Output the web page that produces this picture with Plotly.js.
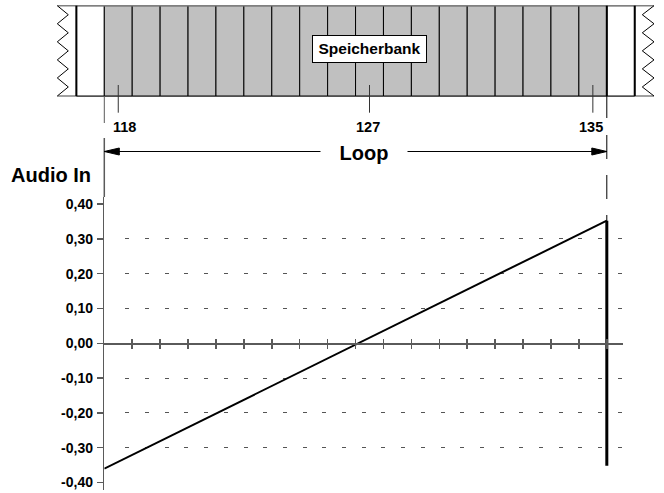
<!DOCTYPE html>
<html><head><meta charset="utf-8">
<script src="https://cdn.plot.ly/plotly-3.0.1.min.js"></script>
<style>html,body{margin:0;padding:0;background:#fff}#chart{width:664px;height:493px}</style>
</head><body><div id="chart"></div>
<script>
// ---------- data ----------
const bankCells   = [117,118,119,120,121,122,123,124,125,126,127,128,129,130,131,132,133,134,135,136];
const bankHeights = [1,1,1,1,1,1,1,1,1,1,1,1,1,1,1,1,1,1,1,1];
const loopStart = 118;
const loopEnd   = 135;
const markedCells  = [118, 127, 135];
const markedLabels = ['118', '127', '135'];
const rampX = [117.5, 135.5];
const rampY = [-0.36, 0.352];
const dropX = [135.5, 135.5];
const dropY = [0.352, -0.352];
const yTickVals = [-0.4, -0.3, -0.2, -0.1, 0, 0.1, 0.2, 0.3, 0.4];
const yTickText = ['-0,40', '-0,30', '-0,20', '-0,10', '0,00', '0,10', '0,20', '0,30', '0,40'];
const gridVals  = [-0.3, -0.2, -0.1, 0.1, 0.2, 0.3];
const xTickVals = [118.5,119.5,120.5,121.5,122.5,123.5,124.5,125.5,126.5,127.5,128.5,129.5,130.5,131.5,132.5,133.5,134.5,135.5];

// ---------- geometry helpers ----------
const W = 664, H = 493;
const fx = p => p / W;
const fy = p => (H - p) / H;
const S = 27.917;            // px per cell
const X0 = 104.3;            // px of cell edge 117.5
const AX = '#5a5a5a';
const FONT = 'Liberation Sans, Arial, Helvetica, sans-serif';

const yDom = [fy(489.5), fy(197)];
const zeroFrac = (yDom[0] + yDom[1]) / 2;
const xRange = [117.5, 117.5 + (623 - X0) / S];

const padU = 0.05, padV = 0.03;
const x2px0 = X0 + (116.5 - padU - 117.5) * S, x2px1 = X0 + (136.5 + padU - 117.5) * S;
const bankTop = 5.7, bankBot = 96, bankH = bankBot - bankTop;
const y3px0 = bankBot + padV * bankH, y3px1 = bankTop - padV * bankH;

const fills = bankCells.map(c => (c >= loopStart && c <= loopEnd) ? '#c0c0c0' : '#ffffff');

const traces = [
  {type: 'bar', x: bankCells, y: bankHeights, base: 0, width: 1, xaxis: 'x2', yaxis: 'y3',
   marker: {color: fills, line: {color: '#000', width: 1}}, hoverinfo: 'skip', showlegend: false},
  {type: 'scatter', mode: 'lines', x: rampX, y: rampY, xaxis: 'x', yaxis: 'y',
   line: {color: '#000', width: 2}, hoverinfo: 'skip', showlegend: false},
  {type: 'scatter', mode: 'lines', x: dropX, y: dropY, xaxis: 'x', yaxis: 'y',
   line: {color: '#000', width: 3}, hoverinfo: 'skip', showlegend: false},
  {type: 'scatter', mode: 'lines', x: [], y: [], xaxis: 'x3', yaxis: 'y', hoverinfo: 'skip', showlegend: false},
  {type: 'scatter', mode: 'lines', x: [], y: [], xaxis: 'x', yaxis: 'y2', hoverinfo: 'skip', showlegend: false}
];

// zigzag paths
function zig(xa, xb, n) {
  let d = '';
  for (let i = 0; i <= n; i++) {
    const px = (i % 2 === 0) ? xa : xb;
    const py = bankTop + bankH * i / n;
    d += (i === 0 ? 'M' : 'L') + fx(px).toFixed(5) + ',' + fy(py).toFixed(5);
  }
  return d;
}
let dashArr = ['0px', '21px'];
for (let i = 0; i < 30; i++) dashArr.push('4px', '15.7px');

const shapes = [
  {type: 'line', xref: 'paper', yref: 'paper', x0: fx(57.3), x1: fx(654), y0: fy(bankBot), y1: fy(bankBot), line: {color: '#808080', width: 1.5}, layer: 'below'},
  {type: 'line', xref: 'paper', yref: 'paper', x0: fx(57.3), x1: fx(654), y0: fy(bankTop), y1: fy(bankTop), line: {color: '#808080', width: 1.5}, layer: 'above'},
  {type: 'path', xref: 'paper', yref: 'paper', path: zig(57.3, 68.3, 10), line: {color: '#000', width: 1}},
  {type: 'path', xref: 'paper', yref: 'paper', path: zig(654, 642.3, 10), line: {color: '#000', width: 1}},
];
[116.5, 135.5, 136.5].forEach(v => shapes.push(
  {type: 'line', xref: 'x2', yref: 'paper', x0: v, x1: v, y0: fy(bankTop), y1: fy(bankBot), line: {color: '#000', width: 2}}));
markedCells.forEach(c => shapes.push(
  {type: 'line', xref: 'x2', yref: 'paper', x0: c, x1: c, y0: fy(85), y1: fy(112.7), line: {color: '#333', width: 1}}));
// loop boundaries
shapes.push({type: 'line', xref: 'x2', yref: 'paper', x0: loopStart - 0.5, x1: loopStart - 0.5, y0: fy(96), y1: fy(123), line: {color: AX, width: 1}});
shapes.push({type: 'line', xref: 'x2', yref: 'paper', x0: loopStart - 0.5, x1: loopStart - 0.5, y0: fy(138), y1: fy(197), line: {color: AX, width: 1.5}});
shapes.push({type: 'line', xref: 'x2', yref: 'paper', x0: loopEnd + 0.5, x1: loopEnd + 0.5, y0: fy(96), y1: fy(118), line: {color: '#000', width: 1}});
shapes.push({type: 'line', xref: 'x2', yref: 'paper', x0: loopEnd + 0.5, x1: loopEnd + 0.5, y0: fy(135), y1: fy(221), line: {color: '#000', width: 1, dash: '24px,16px'}});
// loop arrow
shapes.push({type: 'line', xref: 'x2', yref: 'paper', x0: loopStart - 0.5, x1: loopEnd + 0.5, y0: fy(151.5), y1: fy(151.5), line: {color: '#000', width: 1}});
shapes.push({type: 'path', xref: 'x2', yref: 'paper', xsizemode: 'pixel', ysizemode: 'pixel',
  xanchor: loopStart - 0.5, yanchor: fy(151.5), path: 'M0,0L15,3.5L15,-3.5Z', fillcolor: '#000', line: {color: '#000', width: 1}});
shapes.push({type: 'path', xref: 'x2', yref: 'paper', xsizemode: 'pixel', ysizemode: 'pixel',
  xanchor: loopEnd + 0.5, yanchor: fy(151.5), path: 'M0,0L-15,3.5L-15,-3.5Z', fillcolor: '#000', line: {color: '#000', width: 1}});

const labelShift = [6, -2, -2];
const annotations = [
  {xref: 'x2', yref: 'paper', x: 127, y: fy(49.5), text: 'Speicherbank', showarrow: false,
   font: {family: FONT, size: 15.5, color: '#000', weight: 'bold'}, bgcolor: '#fff', bordercolor: '#000',
   borderwidth: 1, borderpad: 0, width: 113, height: 25.6, xanchor: 'center', yanchor: 'middle'},
  {xref: 'x2', yref: 'paper', x: 126.8, y: fy(153), text: 'Loop', showarrow: false,
   font: {family: FONT, size: 20, color: '#000', weight: 'bold'}, bgcolor: '#fff', width: 86, borderpad: 0,
   xanchor: 'center', yanchor: 'middle'},
  {xref: 'paper', yref: 'paper', x: fx(93), y: fy(174.5), text: 'Audio In', showarrow: false,
   font: {family: FONT, size: 20, color: '#000', weight: 'bold'}, xanchor: 'right', yanchor: 'middle'}
];
markedCells.forEach((c, i) => annotations.push(
  {xref: 'x2', yref: 'paper', x: c, xshift: labelShift[i], y: fy(126.7), text: markedLabels[i], showarrow: false,
   font: {family: FONT, size: 14.5, color: '#000', weight: 'bold'}, xanchor: 'center', yanchor: 'middle'}));

const layout = {
  width: W, height: H, margin: {l: 0, r: 0, t: 0, b: 0},
  paper_bgcolor: '#fff', plot_bgcolor: 'rgba(0,0,0,0)', showlegend: false, separators: ',.',
  font: {family: FONT, color: '#000'},
  bargap: 0,
  xaxis: {domain: [fx(X0), fx(623)], range: xRange, anchor: 'free', position: zeroFrac,
    showline: true, linecolor: AX, linewidth: 1.5, ticks: 'outside', ticklen: 4, tickwidth: 1.5, tickcolor: AX,
    tickvals: xTickVals, showticklabels: false, showgrid: false, zeroline: false, fixedrange: true},
  xaxis3: {overlaying: 'x', range: xRange, anchor: 'free', position: zeroFrac,
    showline: false, ticks: 'inside', ticklen: 4, tickwidth: 1.5, tickcolor: AX,
    tickvals: xTickVals, showticklabels: false, showgrid: false, zeroline: false, fixedrange: true},
  yaxis: {domain: yDom, range: [-0.42, 0.42], anchor: 'x', showline: true, linecolor: AX, linewidth: 1.5,
    ticks: 'outside', ticklen: 6, tickwidth: 1.5, tickcolor: AX, tickvals: yTickVals, ticktext: yTickText,
    tickfont: {family: FONT, size: 14, color: '#000', weight: 'bold'}, ticklabelstandoff: 1,
    showgrid: false, zeroline: false, fixedrange: true},
  yaxis2: {overlaying: 'y', range: [-0.42, 0.42], anchor: 'x', tickvals: gridVals, showgrid: true,
    gridcolor: '#555', gridwidth: 1, griddash: dashArr.join(','), showticklabels: false, ticks: '',
    showline: false, zeroline: false, fixedrange: true},
  xaxis2: {domain: [fx(x2px0), fx(x2px1)], range: [116.5 - padU, 136.5 + padU], anchor: 'y3', visible: false, fixedrange: true},
  yaxis3: {domain: [fy(y3px0), fy(y3px1)], range: [-padV, 1 + padV], anchor: 'x2', visible: false, fixedrange: true},
  shapes: shapes, annotations: annotations
};

Plotly.newPlot('chart', traces, layout, {displayModeBar: false, staticPlot: true});
</script></body></html>
